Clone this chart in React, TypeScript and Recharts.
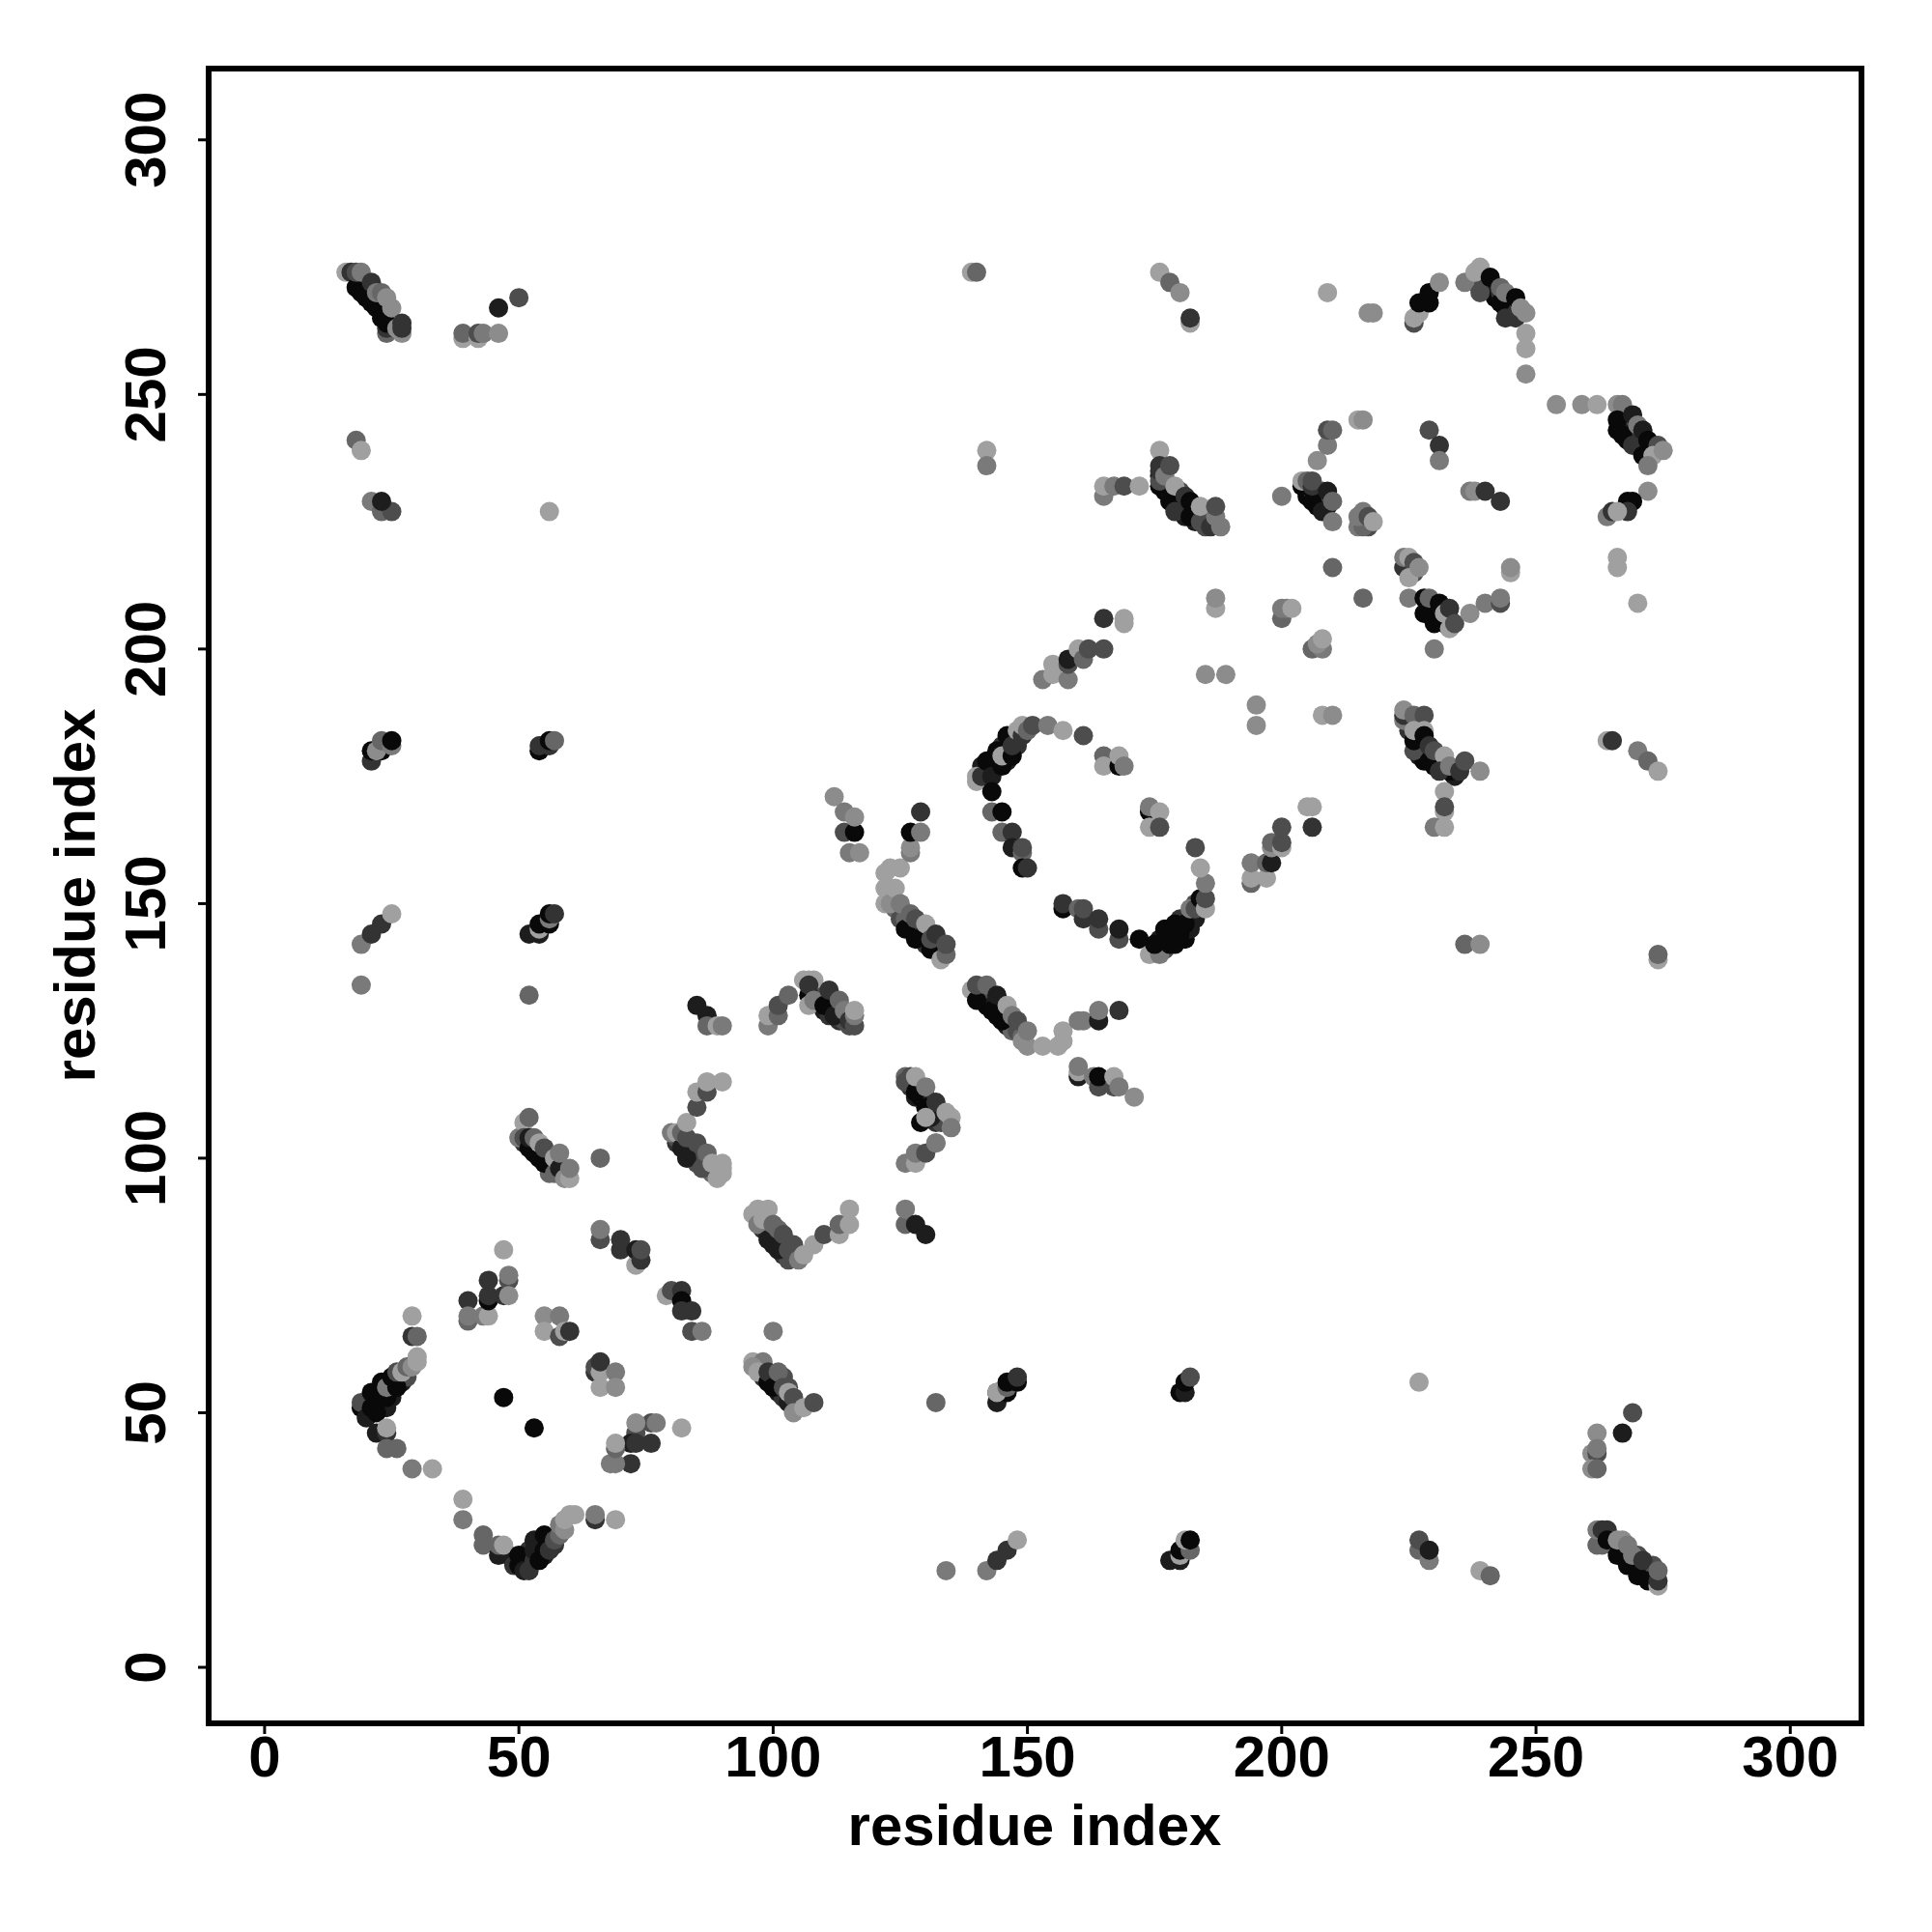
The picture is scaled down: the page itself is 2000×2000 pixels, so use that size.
import React from "react";
import { ScatterChart, Scatter, XAxis, YAxis, ReferenceArea } from "recharts";

type P = number[];
const xTicks = [0, 50, 100, 150, 200, 250, 300];
const yTicks = [0, 50, 100, 150, 200, 250, 300];
const axisTitle = "residue index";
const greys = ["#090909", "#1d1d1d", "#333333", "#4d4d4d", "#666666", "#7a7a7a", "#8c8c8c", "#a0a0a0"];

const underlayA: P[] = [[19,272,1],[20,271,0],[22,269,1],[240,271,0],[242,269,0],[244,267,0],[245,266,1],[241,272,1],[243,270,2],[245,268,2],[238,272,3],[266,243,0],[267,244,1],[268,241,0],[269,243,1],[270,240,0],[271,240,0],[268,246,3],[270,242,2]];
const underlayB: P[] = [[176,234,0],[177,231,0],[178,231,1],[179,230,0],[180,228,0],[181,228,1],[181,226,1],[183,227,0],[183,225,1],[185,226,2],[185,224,3],[180,231,3],[177,233,2],[205,231,0],[205,230,0],[207,230,1],[207,228,0],[208,229,2],[209,229,1],[209,228,1],[206,231,3],[208,231,3]];
const underlayC: P[] = [[20,52,0],[20,50,0],[22,52,0],[22,54,0],[24,51,1],[24,54,1],[25,55,0],[27,56,1],[28,57,3],[25,53,1],[51,21,0],[52,21,1],[52,23,2],[54,24,0],[55,22,1],[56,25,1],[57,24,2],[53,25,1],[48,22,1],[51,20,0]];
const underlayD: P[] = [[53,101,0],[53,102,1],[56,98,2],[56,100,2],[58,97,3],[51,103,2],[54,102,2],[55,101,3],[56,97,4],[81,103,2],[83,102,1],[84,100,2],[84,102,3],[85,99,3],[85,101,3],[86,100,3],[88,97,4],[87,99,4],[81,104,3],[82,103,3]];
const underlayE: P[] = [[98,86,2],[99,85,1],[100,83,1],[102,81,2],[103,80,3],[100,85,2],[101,84,2],[102,83,3],[104,81,3],[98,87,3],[99,87,5],[108,133,1],[109,131,1],[110,129,1],[111,128,2],[113,128,1],[113,127,2],[114,127,3],[115,126,3],[109,132,3],[111,131,3]];
const underlayF: P[] = [[100,57,1],[101,54,1],[102,53,2],[98,57,2],[98,59,3],[101,56,2],[102,57,3],[103,55,3],[105,51,4],[128,112,1],[129,112,0],[130,112,2],[131,110,0],[132,108,1],[132,107,2],[133,109,1],[133,107,3],[127,114,2],[134,107,3]];
const underlayG: P[] = [[124,149,4],[125,147,3],[127,145,0],[128,145,1],[129,143,1],[129,145,2],[130,143,1],[130,142,2],[132,141,1],[133,141,2],[126,147,4],[141,132,0],[142,130,0],[142,132,2],[143,131,1],[144,128,0],[145,130,2],[146,128,1],[146,126,1],[147,125,4],[148,125,3],[149,124,4],[149,123,6],[141,133,3]];
const underlayH: P[] = [[179,144,0],[178,144,1],[176,143,1],[181,143,0],[182,147,1],[183,147,1],[184,149,1],[182,145,1],[177,141,3],[180,147,2],[183,150,3],[143,177,0],[144,178,1],[146,178,1],[146,180,1],[147,182,1],[148,181,2],[148,182,2],[142,176,1],[141,177,1],[145,181,2]];
const underlayI: P[] = [[225,184,2],[226,183,2],[227,181,0],[228,180,0],[227,179,1],[228,178,0],[230,177,0],[231,178,1],[232,177,0],[234,175,1],[225,186,3],[227,185,4],[265,24,2],[266,24,1],[267,23,0],[268,22,1],[269,20,0],[270,20,1],[271,18,0],[272,19,2],[273,18,1],[273,20,3],[270,22,3],[229,208,0],[230,208,0],[230,207,1],[231,206,0],[232,205,1],[233,206,3],[229,209,1],[225,216,2],[226,215,3],[216,225,2],[217,224,3]];

const topLeft: P[] = [[16,274,7],[17,274,2],[18,271,0],[19,270,0],[18,274,3],[20,269,0],[21,268,0],[22,267,0],[23,265,0],[19,274,5],[21,272,2],[22,270,5],[23,270,4],[24,262,4],[24,263,2],[24,264,0],[24,269,6],[25,267,6],[27,262,6],[26,263,6],[27,264,2],[27,263,2]];
const topRow: P[] = [[39,261,7],[39,262,4],[42,261,7],[42,262,3],[43,262,5],[46,262,6],[46,267,1],[50,269,3]];
const leftUpper: P[] = [[18,241,4],[19,239,7],[21,229,5],[23,227,4],[25,227,3],[23,229,1],[56,227,7]];
const vertical180: P[] = [[21,178,2],[21,180,0],[23,180,0],[22,180,6],[23,182,4],[25,181,5],[25,182,0],[54,180,0],[54,181,2],[56,181,2],[56,182,0],[57,182,4]];
const vertical145: P[] = [[19,134,5],[19,142,5],[21,144,2],[23,146,2],[25,148,7],[52,132,4],[52,144,1],[54,144,1],[54,145,7],[54,146,0],[56,146,0],[56,147,5],[56,148,0],[57,148,2]];

const armLeft: P[] = [[19,51,0],[19,52,3],[20,49,1],[21,51,0],[21,54,0],[22,50,0],[23,53,0],[23,56,0],[24,53,0],[24,55,5],[25,57,0],[26,55,0],[26,58,3],[27,58,7],[28,59,4],[29,59,6],[30,60,7],[30,61,7],[29,65,2],[30,65,4],[29,69,7],[22,46,1],[24,46,2],[24,47,7],[24,43,4],[26,43,4],[29,39,5],[33,39,7]];
const armBottom: P[] = [[39,33,7],[39,29,5],[43,24,4],[43,26,4],[46,22,1],[46,24,4],[47,24,7],[49,20,2],[50,20,0],[50,22,0],[51,19,1],[52,19,2],[53,21,2],[53,23,1],[54,21,0],[55,23,0],[55,26,0],[56,23,2],[57,25,3],[58,26,4],[58,28,5],[59,27,6],[59,29,7],[60,30,7],[61,30,7],[65,29,2],[65,30,5],[69,29,7]];
const dots: P[] = [[47,53,0],[53,47,0]];
const midLeft: P[] = [[40,72,2],[40,68,4],[40,69,5],[43,69,5],[44,69,7],[44,72,0],[44,73,2],[44,76,2],[47,73,2],[48,76,3],[48,77,5],[48,73,6],[47,82,7]];
const midCenter: P[] = [[55,69,6],[58,69,5],[55,66,7],[58,65,3],[59,66,7],[60,66,2],[65,58,2],[65,59,3],[66,58,7],[66,60,2],[69,58,5],[66,55,7],[69,55,6]];
const midRight: P[] = [[76,48,3],[73,46,3],[72,44,1],[73,44,2],[76,44,2],[72,40,2],[68,40,5],[69,40,5],[69,43,4],[69,44,7],[73,48,6],[77,48,5],[82,47,7]];
const stairs: P[] = [[66,84,3],[66,86,5],[70,82,2],[70,84,2],[73,79,7],[73,82,1],[74,80,2],[74,82,3],[79,73,7],[80,74,3],[82,74,2],[82,72,0],[82,70,2],[84,70,2],[84,66,3],[86,66,5]];

const diagA: P[] = [[50,104,5],[51,107,7],[51,104,3],[52,102,0],[52,104,1],[52,108,4],[53,104,4],[54,100,0],[54,103,7],[55,99,0],[55,102,3],[57,97,4],[57,100,7],[58,98,1],[58,101,5],[59,96,6],[60,96,7],[60,98,5],[66,100,4]];
const diagB: P[] = [[80,105,5],[81,105,7],[82,102,1],[82,105,4],[83,100,1],[83,104,3],[83,107,7],[85,103,3],[85,110,3],[85,113,7],[86,98,3],[87,101,4],[87,113,3],[87,115,7],[88,99,7],[89,96,7],[90,97,7],[90,98,7],[90,99,7],[90,115,7]];
const diagC: P[] = [[96,89,7],[97,90,7],[99,90,7],[97,87,5],[98,88,7],[99,84,1],[100,87,4],[101,82,1],[101,86,4],[102,85,3],[103,82,3],[104,83,3],[105,80,5],[106,81,7],[108,83,7],[110,85,3],[113,85,7],[113,87,4],[115,87,7],[115,90,7]];
const diagCside: P[] = [[126,87,4],[126,90,5],[128,87,1],[130,85,1],[126,99,5],[128,99,7],[128,101,5],[130,101,3],[132,103,5]];
const diagD: P[] = [[85,130,1],[87,128,1],[87,126,4],[89,126,7],[90,126,5],[99,126,5],[99,128,7],[101,128,4],[101,130,3],[103,132,4],[106,135,7],[107,132,0],[107,135,7],[108,135,7],[107,134,2],[107,130,7],[108,131,5],[110,130,0],[111,133,2],[112,128,1],[113,131,4],[114,129,5],[115,127,2],[116,126,3],[116,128,5],[116,129,7]];
const diagE: P[] = [[96,60,7],[98,60,5],[96,59,6],[97,58,7],[99,56,0],[99,58,2],[100,55,0],[101,58,4],[102,55,3],[103,52,1],[103,54,7],[104,53,3],[104,50,6],[106,51,7],[108,52,3],[100,66,5]];
const lowMid: P[] = [[126,116,4],[127,116,3],[126,115,3],[128,113,0],[130,110,0],[129,107,0],[131,108,1],[128,116,7],[130,114,5],[132,111,2],[130,108,7],[134,109,7],[135,108,7],[135,106,5],[132,103,5]];
const sideGroup: P[] = [[112,171,6],[114,164,3],[114,168,5],[116,164,0],[116,167,6],[115,160,5],[117,160,6]];
const upperMid: P[] = [[122,150,7],[122,153,7],[122,156,7],[123,150,6],[123,157,7],[124,153,7],[125,150,5],[125,157,7],[126,145,0],[127,148,4],[127,160,5],[127,161,6],[127,164,0],[129,164,5],[129,168,2],[128,143,0],[128,147,3],[130,146,7],[131,141,0],[131,143,3],[132,144,2],[133,139,7],[134,140,4],[134,142,3]];
const arcTop: P[] = [[140,174,7],[140,175,7],[141,175,2],[142,178,0],[143,175,1],[144,180,0],[145,177,0],[145,179,7],[146,183,0],[147,179,0],[147,181,2],[148,184,7],[149,183,2],[149,185,7],[150,184,4],[151,185,3],[154,185,5],[157,184,7],[161,183,3],[143,172,0],[143,168,4],[145,168,0],[145,164,4],[147,164,2],[147,161,1],[149,160,4],[149,161,3],[149,157,0],[150,157,2]];
const arcLow: P[] = [[157,149,0],[157,150,2],[160,149,4],[161,147,2],[161,149,3],[164,145,3],[164,147,2],[168,143,3],[168,145,1],[172,143,0],[174,140,7],[176,140,5],[175,142,0],[177,145,0],[178,142,0],[179,142,0],[179,146,0],[180,144,0],[181,146,0],[182,149,5],[183,149,3],[184,151,0],[185,149,7],[185,151,3],[185,154,5],[184,157,7],[183,161,3]];
const arcSide: P[] = [[165,179,4],[165,177,7],[168,177,0],[168,179,7],[169,177,5],[174,168,0],[174,169,5],[176,168,7],[174,165,7],[176,165,3]];
const crossB: P[] = [[139,133,7],[140,131,0],[140,134,3],[142,134,4],[143,129,0],[144,132,1],[145,127,0],[146,130,7],[147,128,5],[148,127,3],[150,122,6],[150,125,5],[153,122,7],[156,122,7],[157,123,7],[157,125,7],[160,127,5],[161,127,5],[164,127,1],[164,129,5],[168,129,2]];
const crossC: P[] = [[160,116,1],[160,117,7],[160,118,5],[163,116,5],[164,114,3],[164,116,0],[167,114,3],[167,116,7],[168,114,5],[171,112,6]];
const riseA: P[] = [[194,154,4],[194,155,7],[194,158,5],[197,155,7],[197,158,4],[198,158,1],[198,161,6],[198,162,4],[200,161,7],[200,162,3],[200,165,3],[205,169,7],[206,169,7],[206,165,2]];

const upperA: P[] = [[139,274,7],[140,274,4],[176,274,7],[178,272,4],[180,270,6],[182,264,7],[182,265,2],[142,239,7],[142,236,5],[209,270,7],[217,266,6],[218,266,6]];
const upperB: P[] = [[165,230,5],[165,232,7],[167,232,5],[169,232,3],[172,232,7],[176,239,7],[176,232,0],[176,233,3],[176,235,2],[176,236,2],[177,234,5],[178,236,3],[178,229,0],[179,227,2],[179,232,7],[181,230,2],[182,226,0],[182,229,0],[184,225,3],[184,228,7],[186,224,2],[187,226,5],[187,228,3],[188,224,5]];
const upperC: P[] = [[200,230,5],[204,232,0],[204,233,7],[205,233,4],[206,229,0],[206,232,2],[206,233,3],[207,237,6],[208,227,1],[209,231,1],[209,240,5],[209,243,3],[210,243,4],[210,229,4],[210,225,5],[215,245,7],[216,245,6]];
const upperD: P[] = [[215,224,5],[216,224,4],[215,226,5],[216,227,5],[217,226,3],[218,225,7]];
const upperE: P[] = [[229,243,3],[231,240,2],[231,237,5],[237,231,5],[238,231,6],[240,231,2],[243,229,2]];
const upperF: P[] = [[224,216,2],[224,218,5],[225,218,7],[226,217,3],[225,214,7],[227,216,6],[210,216,4],[245,215,7],[245,216,6],[266,216,7],[266,218,7],[216,210,4],[187,208,7],[187,210,6],[270,209,7],[230,200,5]];
const upperG: P[] = [[225,210,5],[228,207,0],[228,210,0],[229,210,4],[230,205,0],[231,209,0],[232,207,7],[233,208,2],[233,204,7],[234,205,3],[237,207,6],[240,209,5],[243,209,3],[243,210,5]];
const upperH: P[] = [[153,194,5],[155,195,7],[155,197,7],[158,194,5],[158,197,3],[158,198,1],[160,200,7],[161,198,4],[162,200,3],[165,200,3],[165,206,2],[169,205,7],[169,206,7],[185,195,6],[189,195,6],[195,185,6],[195,189,6],[200,206,4],[200,208,5],[201,208,5],[202,208,7],[206,200,4],[208,200,5],[207,201,6],[208,202,7],[208,187,7],[210,187,6]];
const upperI: P[] = [[226,264,3],[226,265,7],[227,266,7],[227,268,0],[229,268,0],[229,270,0],[231,272,6],[236,272,5],[238,274,7],[239,275,7],[239,270,3],[241,273,0],[243,268,0],[243,271,4],[244,265,2],[244,270,5],[246,265,2],[246,269,0],[247,267,6],[248,266,6],[248,262,7],[248,259,7],[248,254,6]];
const upperJ: P[] = [[254,248,6],[259,248,6],[262,248,7],[266,248,6],[267,248,5],[266,245,0],[269,246,1],[267,242,0],[270,244,5],[269,240,2],[271,243,1],[271,238,0],[272,241,0],[274,240,3],[273,238,7],[275,239,6],[272,236,5],[272,231,6],[269,229,0],[268,229,0],[268,227,2],[264,226,5],[265,227,2],[266,227,7]];
const lowerA: P[] = [[224,186,5],[224,187,2],[224,188,6],[226,187,4],[228,187,3],[226,180,3],[226,182,0],[226,184,7],[228,184,7],[228,183,0],[229,178,0],[229,181,2],[230,180,3],[232,179,7],[233,176,0],[231,176,2],[233,177,5],[235,176,2],[236,178,3],[239,176,6],[232,172,7],[232,168,7],[232,169,3],[230,165,5],[232,165,7],[264,182,7],[265,182,2],[270,180,5],[272,178,4],[274,176,7],[236,142,4],[239,142,6],[274,139,7],[274,140,4]];
const bottomA: P[] = [[132,52,4],[144,52,1],[144,54,1],[146,54,0],[144,54,7],[146,55,4],[146,56,0],[148,56,0],[148,57,2],[180,54,0],[181,54,1],[181,56,0],[182,57,3],[227,56,7]];
const bottomB: P[] = [[134,19,5],[142,19,5],[144,21,2],[146,23,2],[148,25,7],[178,21,1],[180,21,1],[180,22,7],[180,23,0],[182,23,4],[181,25,7],[182,25,0],[227,23,4],[227,25,3],[229,21,5],[229,23,1],[239,19,7],[241,18,4]];
const bottomC: P[] = [[269,50,3],[267,46,1],[262,46,6],[261,42,6],[262,42,3],[262,43,5],[261,39,6],[262,39,4]];
const bottomD: P[] = [[262,24,4],[263,24,4],[262,27,5],[263,27,2],[264,27,2],[264,25,0],[266,22,0],[268,20,0],[270,18,0],[272,17,0],[266,25,6],[267,25,6],[268,24,5],[269,22,5],[271,21,2],[274,16,7],[274,17,2],[274,19,4]];

const clusters = [underlayA, underlayB, underlayC, underlayD, underlayE, underlayF, underlayG, underlayH, underlayI, topLeft, topRow, leftUpper, vertical180, vertical145, armLeft, armBottom, dots, midLeft, midCenter, midRight, stairs, diagA, diagB, diagC, diagCside, diagD, diagE, lowMid, sideGroup, upperMid, arcTop, arcLow, arcSide, crossB, crossC, riseA, upperA, upperB, upperC, upperD, upperE, upperF, upperG, upperH, upperI, upperJ, lowerA, bottomA, bottomB, bottomC, bottomD];
const points = clusters.flat().map(([x, y, shade]) => ({ x, y, shade }));

const DOMAIN_X: [number, number] = [-11, 314];
const DOMAIN_Y: [number, number] = [-11, 314];
const FONT = "'Liberation Sans', Arial, sans-serif";
const SIZE = 60;

const Dot = (p: any) => <circle cx={p.cx} cy={p.cy} r={10} fill={greys[p.payload?.shade ?? p.shade ?? 0]} />;

const XTick = (p: any) => (
  <text x={p.x} y={1839} textAnchor="middle" fontFamily={FONT} fontWeight={700} fontSize={SIZE} fill="#000">{p.payload.value}</text>
);
const YTick = (p: any) => (
  <text transform={`translate(171, ${p.y}) rotate(-90)`} textAnchor="middle" fontFamily={FONT} fontWeight={700} fontSize={SIZE} fill="#000">{p.payload.value}</text>
);
const XTitle = () => (
  <text x={1071} y={1910} textAnchor="middle" fontFamily={FONT} fontWeight={700} fontSize={SIZE} fill="#000">{axisTitle}</text>
);
const YTitle = () => (
  <text transform="translate(98, 927) rotate(-90)" textAnchor="middle" fontFamily={FONT} fontWeight={700} fontSize={SIZE} fill="#000">{axisTitle}</text>
);

export default function App() {
  return (
    <div style={{ position: "absolute", left: 0, top: 0, width: 2000, height: 2000, background: "#fff" }}>
      <ScatterChart width={2000} height={2000} margin={{ left: 0, right: 73, top: 71, bottom: 0 }}>
        <XAxis type="number" dataKey="x" domain={DOMAIN_X} ticks={xTicks} allowDataOverflow height={216}
          axisLine={false} tickSize={11} tickLine={{ stroke: "#000", strokeWidth: 3 }} tick={<XTick />} interval={0}
          label={<XTitle />} />
        <YAxis type="number" dataKey="y" domain={DOMAIN_Y} ticks={yTicks} allowDataOverflow width={216}
          axisLine={false} tickSize={11} tickLine={{ stroke: "#000", strokeWidth: 3 }} tick={<YTick />} interval={0}
          label={<YTitle />} />
        <Scatter data={points} isAnimationActive={false} shape={<Dot />} />
        <ReferenceArea x1={DOMAIN_X[0]} x2={DOMAIN_X[1]} y1={DOMAIN_Y[0]} y2={DOMAIN_Y[1]} fill="none" stroke="#000" strokeWidth={6} ifOverflow="visible" />
      </ScatterChart>
    </div>
  );
}
